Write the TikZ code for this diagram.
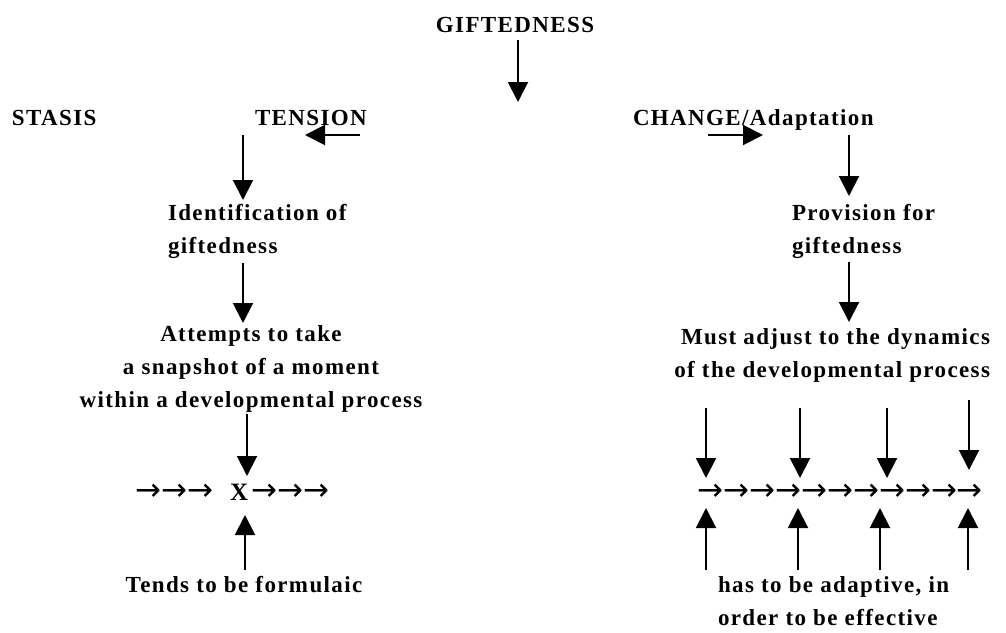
\documentclass[tikz,border=0pt]{standalone}
\usepackage{fontspec}
\setmainfont{Liberation Serif}[LetterSpace=6]
\newfontfamily\arrowfont{DejaVu Sans}
\usepackage{tikz}
\usetikzlibrary{arrows.meta,positioning}

\begin{document}
\begin{tikzpicture}[x=1pt,y=-1pt]
  \tikzset{LabelStyle/.style = {font         = \fontsize{23}{33}\selectfont\bfseries,
                                inner sep    = 0pt,
                                outer sep    = 0pt},
           ArrowStyle/.style = {line width   = 2pt,
                                -{Triangle[width=20pt,length=20pt]}},
           ChainStyle/.style = {font         = \fontsize{31}{31}\selectfont\arrowfont,
                                inner sep    = 0pt}}
  \useasboundingbox (0,0) rectangle (1006,632);
  %%% HAUT %%%
  \node[LabelStyle, anchor=base](gift) at (515,32){GIFTEDNESS};
  \coordinate (g1) at (518,40);
  \coordinate (g2) at (518,102);
  \draw[ArrowStyle] (g1) -- (g2);
  \node[LabelStyle, anchor=base west](stasis) at (12,125){STASIS};
  \node[LabelStyle, anchor=base west](tension) at (255,125){TENSION};
  \node[LabelStyle, anchor=base west](change) at (633,125){CHANGE/Adaptation};
  \coordinate (tl1) at (360,135);
  \coordinate (tl2) at (305,135);
  \draw[ArrowStyle] (tl1) -- (tl2);
  \coordinate (cr1) at (708,135);
  \coordinate (cr2) at (763,135);
  \draw[ArrowStyle] (cr1) -- (cr2);
  %%% COLONNE DE GAUCHE %%%
  \coordinate (l1) at (243,135);
  \coordinate (l2) at (243,200);
  \draw[ArrowStyle] (l1) -- (l2);
  \node[LabelStyle, anchor=base west, align=left](ident) at (168,253){Identification of\\giftedness};
  \coordinate (l3) at (243,263);
  \coordinate (l4) at (243,323);
  \draw[ArrowStyle] (l3) -- (l4);
  \node[LabelStyle, anchor=base, align=center](snap) at (251,407){Attempts to take\\a snapshot of a moment\\within a developmental process};
  \coordinate (l5) at (247,414);
  \coordinate (l6) at (247,476);
  \draw[ArrowStyle] (l5) -- (l6);
  \node[ChainStyle, anchor=base west](lchain) at (135,500){→→→\hspace{17pt}{\fontsize{25}{25}\rmfamily\bfseries\selectfont X}\hspace{3pt}→→→};
  \coordinate (l7) at (245,570);
  \coordinate (l8) at (245,515);
  \draw[ArrowStyle] (l7) -- (l8);
  \node[LabelStyle, anchor=base](formula) at (244,592){Tends to be formulaic};
  %%% COLONNE DE DROITE %%%
  \coordinate (r1) at (849,135);
  \coordinate (r2) at (849,196);
  \draw[ArrowStyle] (r1) -- (r2);
  \node[LabelStyle, anchor=base west, align=left](prov) at (792,253){Provision for\\giftedness};
  \coordinate (r3) at (849,262);
  \coordinate (r4) at (849,322);
  \draw[ArrowStyle] (r3) -- (r4);
  \node[LabelStyle, anchor=base east, align=right](adjust) at (990,377){Must adjust to the dynamics\\of the developmental process};
  \node[ChainStyle, anchor=base west](rchain) at (697,500){→→→→→→→→→→→};
  \coordinate (d1) at (706,408);  \coordinate (d2) at (706,478);
  \coordinate (d3) at (800,408);  \coordinate (d4) at (800,478);
  \coordinate (d5) at (887,408);  \coordinate (d6) at (887,478);
  \coordinate (d7) at (969,400);  \coordinate (d8) at (969,470);
  \draw[ArrowStyle] (d1) -- (d2);
  \draw[ArrowStyle] (d3) -- (d4);
  \draw[ArrowStyle] (d5) -- (d6);
  \draw[ArrowStyle] (d7) -- (d8);
  \coordinate (u1) at (706,570);  \coordinate (u2) at (706,508);
  \coordinate (u3) at (798,570);  \coordinate (u4) at (798,508);
  \coordinate (u5) at (880,570);  \coordinate (u6) at (880,508);
  \coordinate (u7) at (968,570);  \coordinate (u8) at (968,508);
  \draw[ArrowStyle] (u1) -- (u2);
  \draw[ArrowStyle] (u3) -- (u4);
  \draw[ArrowStyle] (u5) -- (u6);
  \draw[ArrowStyle] (u7) -- (u8);
  \node[LabelStyle, anchor=base west, align=left](adapt) at (718,625){has to be adaptive, in\\order to be effective};
\end{tikzpicture}
\end{document}
